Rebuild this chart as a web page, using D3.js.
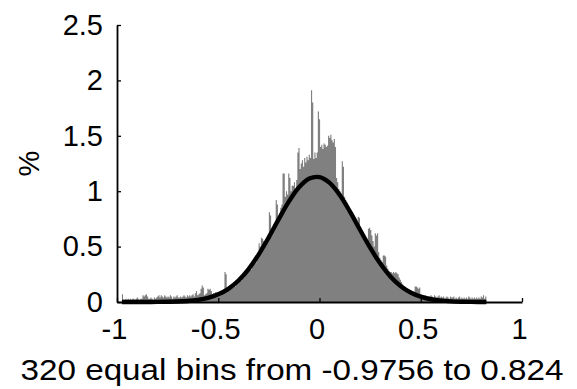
<!DOCTYPE html>
<html>
<head>
<meta charset="utf-8">
<script src="https://cdn.jsdelivr.net/npm/d3@7/dist/d3.min.js"></script>
<style>
  html, body { margin: 0; padding: 0; background: #fff; }
  svg { display: block; }
  text { font-family: "Liberation Sans", Arial, sans-serif; fill: #000; }
</style>
</head>
<body>
<svg id="chart" width="577" height="389"></svg>
<script>
// ---- data ----
const binStart = -0.9756;
const binEnd = 0.824;
const binCount = 320;
// percentage in each of the 320 bins
const binValues = [
  0.07,0.02,0.02,0.03,0.02,0.03,0.02,0.03,0.02,0.03,
  0.03,0.02,0.03,0.04,0.03,0.02,0.03,0.03,0.06,0.05,
  0.06,0.07,0.05,0.03,0.03,0.04,0.03,0.02,0.04,0.03,
  0.04,0.05,0.06,0.04,0.06,0.05,0.04,0.06,0.05,0.04,
  0.05,0.04,0.06,0.05,0.03,0.05,0.04,0.05,0.06,0.04,
  0.04,0.05,0.04,0.05,0.06,0.05,0.04,0.06,0.05,0.06,
  0.05,0.06,0.07,0.05,0.08,0.10,0.06,0.07,0.08,0.12,
  0.15,0.13,0.06,0.07,0.08,0.12,0.11,0.12,0.10,0.07,
  0.08,0.07,0.09,0.08,0.07,0.09,0.08,0.10,0.09,0.10,
  0.27,0.25,0.12,0.11,0.13,0.12,0.14,0.13,0.15,0.14,
  0.17,0.18,0.19,0.20,0.19,0.22,0.23,0.22,0.25,0.26,
  0.27,0.28,0.30,0.29,0.33,0.34,0.36,0.35,0.40,0.42,
  0.53,0.50,0.58,0.57,0.55,0.52,0.55,0.57,0.60,0.81,
  0.78,0.64,0.66,0.70,0.71,0.92,0.88,0.77,0.80,0.85,
  0.88,1.16,1.16,0.95,1.00,0.97,1.16,1.12,1.00,1.05,
  1.05,1.08,1.02,1.10,1.35,1.39,1.20,1.25,1.28,1.22,
  1.30,1.26,1.31,1.28,1.33,1.30,1.91,1.80,1.29,1.35,
  1.30,1.35,1.72,1.65,1.40,1.42,1.38,1.43,1.42,1.40,
  1.41,1.50,1.48,1.51,1.46,1.44,1.47,1.40,1.12,1.08,
  1.02,1.00,0.98,1.27,1.22,0.95,0.92,0.90,0.88,0.86,
  0.82,0.80,0.78,0.76,0.75,0.72,0.70,0.77,0.76,0.68,
  0.64,0.62,0.60,0.58,0.55,0.54,0.66,0.67,0.65,0.60,
  0.55,0.50,0.62,0.60,0.62,0.45,0.40,0.38,0.36,0.42,
  0.42,0.41,0.33,0.30,0.28,0.27,0.27,0.26,0.27,0.26,
  0.27,0.26,0.25,0.22,0.20,0.18,0.16,0.14,0.13,0.12,
  0.11,0.10,0.09,0.09,0.08,0.08,0.09,0.14,0.14,0.13,
  0.12,0.13,0.07,0.06,0.05,0.05,0.06,0.05,0.04,0.05,
  0.05,0.06,0.05,0.04,0.06,0.05,0.04,0.05,0.06,0.04,
  0.05,0.04,0.05,0.03,0.04,0.05,0.04,0.03,0.05,0.04,
  0.04,0.05,0.03,0.04,0.03,0.04,0.05,0.03,0.04,0.03,
  0.04,0.03,0.04,0.03,0.05,0.04,0.03,0.04,0.03,0.04,
  0.03,0.04,0.03,0.04,0.03,0.05,0.04,0.06,0.03,0.05
];
const curveX = [-0.9756,-0.9,-0.8,-0.7,-0.65,-0.6,-0.55,-0.5,-0.45,-0.4,-0.35,-0.3,-0.25,-0.2,-0.15,-0.1,-0.05,0,0.05,0.1,0.15,0.2,0.25,0.3,0.35,0.4,0.45,0.5,0.55,0.6,0.65,0.7,0.75,0.824];
const curveY = [0.0,0.0001,0.0007,0.0043,0.0093,0.019,0.037,0.069,0.119,0.194,0.297,0.430,0.586,0.752,0.910,1.037,1.114,1.127,1.075,0.966,0.817,0.652,0.490,0.347,0.231,0.145,0.086,0.048,0.025,0.0125,0.006,0.0026,0.001,0.0002];
const xTicks = [-1, -0.5, 0, 0.5, 1];
const xTickLabels = ["-1", "-0.5", "0", "0.5", "1"];
const yTicks = [0, 0.5, 1, 1.5, 2, 2.5];
const yTickLabels = ["0", "0.5", "1", "1.5", "2", "2.5"];
const xLabel = "320 equal bins from -0.9756 to 0.824";
const yLabel = "%";

// ---- drawing ----
const svg = d3.select("#chart");
const x = d3.scaleLinear().domain([-1, 1]).range([117, 522]);
const y = d3.scaleLinear().domain([0, 2.5]).range([302, 25]);
const binW = (binEnd - binStart) / binCount;

// histogram as a stepped area (bars without seams)
const steps = binValues.map((v, i) => ({ x0: binStart + i * binW, v }));
steps.push({ x0: binEnd, v: binValues[binValues.length - 1] });
const area = d3.area()
  .x(d => x(d.x0))
  .y0(y(0))
  .y1(d => y(d.v))
  .curve(d3.curveStepAfter);
svg.append("path")
  .datum(steps)
  .attr("d", area)
  .attr("fill", "#808080")
  .attr("stroke", "none");

const line = d3.line()
  .x((d, i) => x(curveX[i]))
  .y(d => y(d))
  .curve(d3.curveCatmullRom);
svg.append("path")
  .datum(curveY)
  .attr("d", line)
  .attr("fill", "none")
  .attr("stroke", "#000")
  .attr("stroke-width", 4.4)
  .attr("stroke-linejoin", "round");

const fs = 29;
const xAxis = svg.append("g")
  .attr("transform", `translate(0,${y(0)})`)
  .call(d3.axisBottom(x).tickValues(xTicks).tickFormat((d, i) => xTickLabels[i])
    .tickSizeInner(-4).tickSizeOuter(0).tickPadding(16));
const yAxis = svg.append("g")
  .attr("transform", `translate(${x(-1)},0)`)
  .call(d3.axisLeft(y).tickValues(yTicks).tickFormat((d, i) => yTickLabels[i])
    .tickSizeInner(-4).tickSizeOuter(0).tickPadding(14));

[xAxis, yAxis].forEach(g => {
  g.select(".domain").attr("stroke", "#000").attr("stroke-width", 1.8);
  g.selectAll(".tick line").attr("stroke", "#000").attr("stroke-width", 1.3);
  g.selectAll(".tick text").attr("font-size", fs).attr("font-family", "Liberation Sans, Arial, sans-serif").attr("fill", "#111");
});
xAxis.selectAll(".tick text").attr("dx", -3);

svg.append("text")
  .attr("x", 292).attr("y", 380)
  .attr("text-anchor", "middle")
  .attr("font-size", fs)
  .attr("fill", "#111")
  .attr("textLength", 543)
  .attr("lengthAdjust", "spacingAndGlyphs")
  .text(xLabel);

svg.append("text")
  .attr("transform", `translate(39,${(y(0) + y(2.5)) / 2}) rotate(-90)`)
  .attr("text-anchor", "middle")
  .attr("font-size", fs)
  .attr("fill", "#111")
  .text(yLabel);
</script>
</body>
</html>
